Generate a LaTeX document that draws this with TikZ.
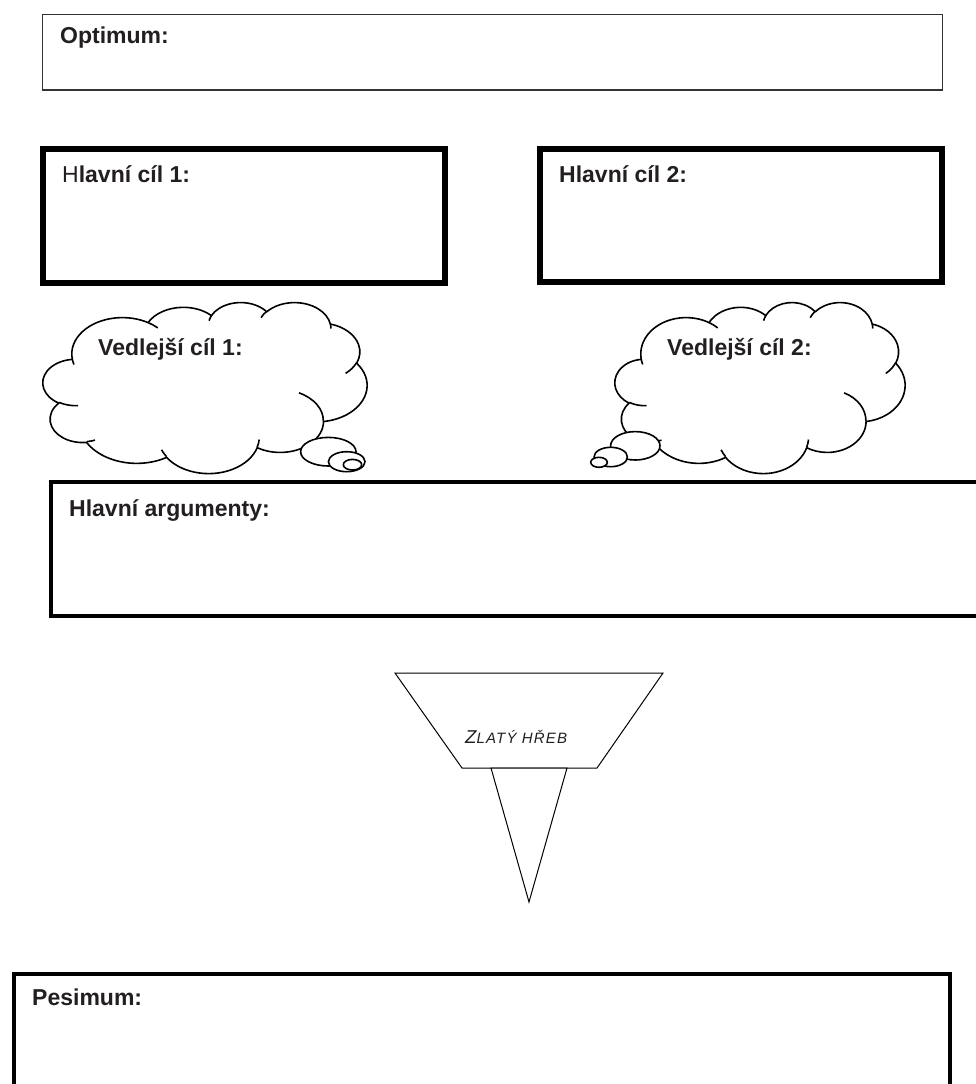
\documentclass[tikz,border=0pt]{standalone}
\usepackage{fontspec}
\setmainfont{Liberation Sans}
\newfontfamily\nailfont[LetterSpace=8]{Liberation Sans}
\definecolor{textgray}{HTML}{231F20}
\tikzset{framebox/.style={draw=black, line width=#1},
%default is the thin frame of the first box
framebox/.default={1.5pt},
cloudline/.style={draw=black, line width=1.6pt, line join=round},
puff/.style={cloudline, fill=white},
nail/.style={draw=black, line width=1pt, fill=white},
heading/.style={anchor=base west, inner sep=0pt, text=textgray, font=\bfseries\fontsize{23}{27}\selectfont}}

\begin{document}
\begin{tikzpicture}[x=1pt,y=-1pt]
		\path[use as bounding box, fill=white] (0,0) rectangle (976,1084);

		\draw[framebox, draw=black!80] (42.5,14.5) rectangle (942.5,90);
		\draw[framebox=6pt] (43,149) rectangle (445,283);
		\draw[framebox=6pt] (540,149) rectangle (942,282);
		\draw[framebox=4pt] (51,482) rectangle (995,616);
		\draw[framebox=4pt] (13.5,974) rectangle (950,1100);

		\node[heading] (optimum) at (60,43) {Optimum:};
		\node[heading] (goal1) at (62,182) {\mdseries H\bfseries lavní cíl 1:};
		\node[heading] (goal2) at (559,182) {Hlavní cíl 2:};
		\node[heading] (args) at (69,516) {Hlavní argumenty:};
		\node[heading] (pesimum) at (32,1005) {Pesimum:};

		% clouds
		\foreach \cx/\cw in {43/324, 615/290}{
			\pgfmathsetmacro\sx{\cw/43.2}
			\begin{scope}[shift={(\cx,302)}, x=\sx pt, y=-3.958pt]
				\draw[puff] (3.900,14.370)
				\foreach \a/\b/\s/\d in {6.753/9.190/-190.4875/123.7805, 5.333/7.267/-144.1024/89.9452,
					4.365/5.945/-145.8079/99.7230, 4.857/6.595/-130.9861/117.2417,
					5.333/7.273/-78.7089/109.0269, 6.775/9.220/-46.2673/130.2690,
					5.785/7.867/0.6250/114.0333, 6.752/9.215/22.4516/115.1726,
					7.720/10.543/66.2426/75.7110, 4.360/5.918/-274.9421/146.7356,
					4.345/5.945/-246.8285/152.5189}
				{ arc[x radius=\a, y radius=\b, start angle={atan2(\a*sin(\s),\b*cos(\s))},
					delta angle={mod(atan2(\a*sin(\s+\d),\b*cos(\s+\d))-atan2(\a*sin(\s),\b*cos(\s))+720,360)}] }
				-- cycle;
				\draw[cloudline]
				\foreach \px/\py/\a/\b/\s/\d in {4.693/26.177/4.345/5.945/86.7420/26.4295,
					6.928/34.899/4.360/5.918/73.6105/11.4475, 16.478/39.090/6.752/9.215/137.6242/14.0811,
					28.827/34.751/6.752/9.215/6.4533/15.9984, 34.129/22.954/5.785/7.867/-70.2924/70.9174,
					41.798/15.354/5.333/7.273/30.3180/27.7515, 38.324/5.426/4.857/6.595/-13.7443/14.8589,
					29.078/3.952/4.857/6.595/-149.1815/18.1954, 22.141/4.720/4.365/5.945/-163.4943/17.6864,
					14.000/5.192/6.753/9.190/-66.7070/12.3194, 4.127/15.789/6.753/9.190/157.6544/11.8582}
				{ (\px,\py) arc[x radius=\a, y radius=\b, start angle={atan2(\a*sin(\s),\b*cos(\s))},
					delta angle={mod(atan2(\a*sin(\s+\d),\b*cos(\s+\d))-atan2(\a*sin(\s),\b*cos(\s))+720,360)}] };
			\end{scope}
		}
		\foreach \ex/\ey/\rx/\ry in {328.3/451.7/27.7/14.3, 346.7/461.7/18.3/10, 352.5/464.7/9.2/5.3,
			635.3/445.8/24.7/14.2, 610.7/457/16.7/9.7, 599/462.3/8.3/5}
			\draw[puff] (\ex,\ey) ellipse[x radius=\rx, y radius=\ry];

		\node[heading] (side1) at (98,355) {Vedlejší cíl 1:};
		\node[heading] (side2) at (667,355) {Vedlejší cíl 2:};

		% nail
		\draw[nail] (395,673) -- (663,673) -- (597,768) -- (462,768) -- cycle;
		\draw[nail] (491,768) -- (567,768) -- (529,902) -- cycle;
		\node[anchor=base west, inner sep=0pt, text=textgray] (nailtext) at (465,743)
			{\nailfont\itshape\fontsize{18.6}{20}\selectfont Z\fontsize{15}{17}\selectfont LATÝ HŘEB};

	\end{tikzpicture}
\end{document}
